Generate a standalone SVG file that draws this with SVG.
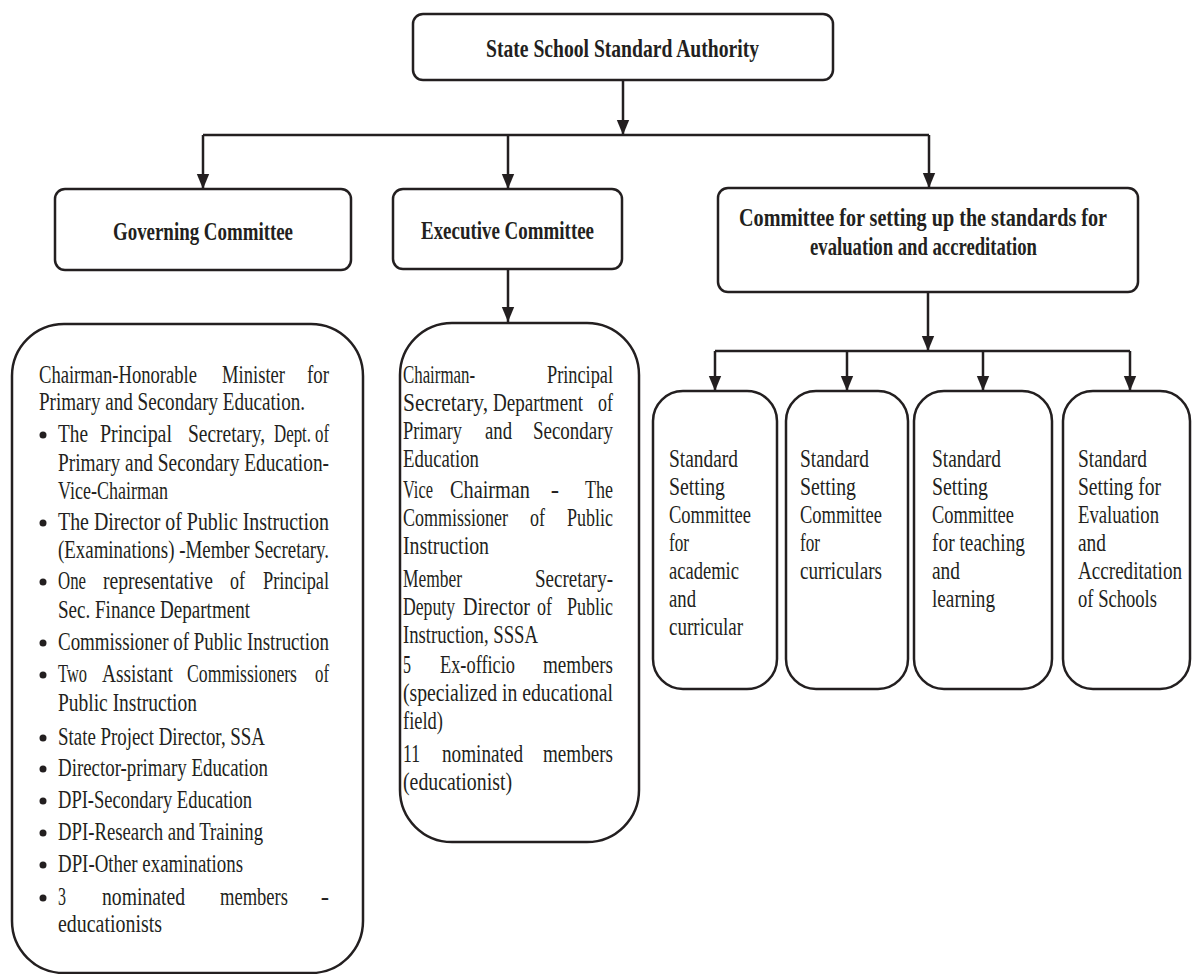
<svg xmlns="http://www.w3.org/2000/svg" width="1192" height="974" viewBox="0 0 1192 974">
  <style>
    .box { fill: #ffffff; stroke: #231f20; stroke-width: 2.5; }
    .wire { fill: none; stroke: #231f20; stroke-width: 2.5; }
    .t { font-family: "Liberation Serif", "Times New Roman", serif; font-size: 25px; fill: #231f20; }
    .h { font-family: "Liberation Serif", "Times New Roman", serif; font-size: 25px; font-weight: bold; fill: #231f20; }
    .dot { fill: #231f20; }
  </style>
  <defs>
    <marker id="tip" markerUnits="userSpaceOnUse" markerWidth="16" markerHeight="18" viewBox="0 0 18 16" refX="17" refY="8" orient="auto">
      <path d="M0,1 L17,8 L0,15 Z" fill="#231f20"/>
    </marker>
  </defs>

  <rect width="1192" height="974" fill="#ffffff"/>

  <!-- connectors -->
  <g id="connectors">
    <path class="wire" d="M623,80 V135" marker-end="url(#tip)"/>
    <path class="wire" d="M203,135 H929"/>
    <path class="wire" d="M203,135 V189" marker-end="url(#tip)"/>
    <path class="wire" d="M508,135 V189" marker-end="url(#tip)"/>
    <path class="wire" d="M929,135 V188" marker-end="url(#tip)"/>
    <path class="wire" d="M508,269 V322" marker-end="url(#tip)"/>
    <path class="wire" d="M928,292 V351" marker-end="url(#tip)"/>
    <path class="wire" d="M715,351 H1130"/>
    <path class="wire" d="M715,351 V391" marker-end="url(#tip)"/>
    <path class="wire" d="M847,351 V391" marker-end="url(#tip)"/>
    <path class="wire" d="M983,351 V391" marker-end="url(#tip)"/>
    <path class="wire" d="M1130,351 V391" marker-end="url(#tip)"/>
  </g>

  <!-- root -->
  <g id="authority">
    <rect class="box" x="413" y="14" width="420" height="66" rx="10"/>
    <text class="h" x="486" y="57" textLength="273" lengthAdjust="spacingAndGlyphs">State School Standard Authority</text>
  </g>

  <!-- second level -->
  <g id="governing">
    <rect class="box" x="55" y="189" width="296" height="81" rx="10"/>
    <text class="h" x="113" y="240" textLength="180" lengthAdjust="spacingAndGlyphs">Governing Committee</text>
  </g>
  <g id="executive">
    <rect class="box" x="393" y="189" width="229" height="80" rx="10"/>
    <text class="h" x="421" y="239" textLength="173" lengthAdjust="spacingAndGlyphs">Executive Committee</text>
  </g>
  <g id="standards-committee">
    <rect class="box" x="718" y="188" width="420" height="104" rx="10"/>
    <text class="h" x="739" y="226" textLength="368" lengthAdjust="spacingAndGlyphs">Committee for setting up the standards for</text>
    <text class="h" x="810" y="255" textLength="227" lengthAdjust="spacingAndGlyphs">evaluation and accreditation</text>
  </g>

  <!-- governing committee members -->
  <g id="governing-members">
    <rect class="box" x="12" y="324" width="351" height="649" rx="52"/>
    <text class="t" x="39" y="383" textLength="158" lengthAdjust="spacingAndGlyphs">Chairman-Honorable</text>
    <text class="t" x="222" y="383" textLength="63" lengthAdjust="spacingAndGlyphs">Minister</text>
    <text class="t" x="307" y="383" textLength="22" lengthAdjust="spacingAndGlyphs">for</text>
    <text class="t" x="39" y="410" textLength="266" lengthAdjust="spacingAndGlyphs">Primary and Secondary Education.</text>

    <circle class="dot" cx="43" cy="435" r="3.5"/>
    <text class="t" x="58" y="442" textLength="30" lengthAdjust="spacingAndGlyphs">The</text>
    <text class="t" x="100" y="442" textLength="72" lengthAdjust="spacingAndGlyphs">Principal</text>
    <text class="t" x="188" y="442" textLength="77" lengthAdjust="spacingAndGlyphs">Secretary,</text>
    <text class="t" x="274" y="442" textLength="37" lengthAdjust="spacingAndGlyphs">Dept.</text>
    <text class="t" x="315" y="442" textLength="14" lengthAdjust="spacingAndGlyphs">of</text>
    <text class="t" x="58" y="471" textLength="271" lengthAdjust="spacingAndGlyphs">Primary and Secondary Education-</text>
    <text class="t" x="58" y="499" textLength="110" lengthAdjust="spacingAndGlyphs">Vice-Chairman</text>

    <circle class="dot" cx="43" cy="523" r="3.5"/>
    <text class="t" x="58" y="530" textLength="271" lengthAdjust="spacingAndGlyphs">The Director of Public Instruction</text>
    <text class="t" x="58" y="558" textLength="271" lengthAdjust="spacingAndGlyphs">(Examinations) -Member Secretary.</text>

    <circle class="dot" cx="43" cy="582" r="3.5"/>
    <text class="t" x="58" y="589" textLength="28" lengthAdjust="spacingAndGlyphs">One</text>
    <text class="t" x="103" y="589" textLength="110" lengthAdjust="spacingAndGlyphs">representative</text>
    <text class="t" x="230" y="589" textLength="15" lengthAdjust="spacingAndGlyphs">of</text>
    <text class="t" x="263" y="589" textLength="66" lengthAdjust="spacingAndGlyphs">Principal</text>
    <text class="t" x="58" y="618" textLength="192" lengthAdjust="spacingAndGlyphs">Sec. Finance Department</text>

    <circle class="dot" cx="43" cy="643" r="3.5"/>
    <text class="t" x="58" y="650" textLength="271" lengthAdjust="spacingAndGlyphs">Commissioner of Public Instruction</text>

    <circle class="dot" cx="43" cy="675" r="3.5"/>
    <text class="t" x="58" y="682" textLength="29" lengthAdjust="spacingAndGlyphs">Two</text>
    <text class="t" x="102" y="682" textLength="71" lengthAdjust="spacingAndGlyphs">Assistant</text>
    <text class="t" x="187" y="682" textLength="110" lengthAdjust="spacingAndGlyphs">Commissioners</text>
    <text class="t" x="315" y="682" textLength="14" lengthAdjust="spacingAndGlyphs">of</text>
    <text class="t" x="58" y="711" textLength="139" lengthAdjust="spacingAndGlyphs">Public Instruction</text>

    <circle class="dot" cx="43" cy="738" r="3.5"/>
    <text class="t" x="58" y="745" textLength="207" lengthAdjust="spacingAndGlyphs">State Project Director, SSA</text>
    <circle class="dot" cx="43" cy="769" r="3.5"/>
    <text class="t" x="58" y="776" textLength="210" lengthAdjust="spacingAndGlyphs">Director-primary Education</text>
    <circle class="dot" cx="43" cy="801" r="3.5"/>
    <text class="t" x="58" y="808" textLength="194" lengthAdjust="spacingAndGlyphs">DPI-Secondary Education</text>
    <circle class="dot" cx="43" cy="833" r="3.5"/>
    <text class="t" x="58" y="840" textLength="205" lengthAdjust="spacingAndGlyphs">DPI-Research and Training</text>
    <circle class="dot" cx="43" cy="865" r="3.5"/>
    <text class="t" x="58" y="872" textLength="185" lengthAdjust="spacingAndGlyphs">DPI-Other examinations</text>

    <circle class="dot" cx="43" cy="898" r="3.5"/>
    <text class="t" x="58" y="905" textLength="8" lengthAdjust="spacingAndGlyphs">3</text>
    <text class="t" x="102" y="905" textLength="83" lengthAdjust="spacingAndGlyphs">nominated</text>
    <text class="t" x="220" y="905" textLength="68" lengthAdjust="spacingAndGlyphs">members</text>
    <text class="t" x="329" y="905" text-anchor="end">-</text>
    <text class="t" x="58" y="932" textLength="104" lengthAdjust="spacingAndGlyphs">educationists</text>
  </g>

  <!-- executive committee members -->
  <g id="executive-members">
    <rect class="box" x="400" y="323" width="239" height="519" rx="52"/>
    <text class="t" x="403" y="383" textLength="72" lengthAdjust="spacingAndGlyphs">Chairman-</text>
    <text class="t" x="547" y="383" textLength="66" lengthAdjust="spacingAndGlyphs">Principal</text>
    <text class="t" x="403" y="411" textLength="85" lengthAdjust="spacingAndGlyphs">Secretary,</text>
    <text class="t" x="493" y="411" textLength="90" lengthAdjust="spacingAndGlyphs">Department</text>
    <text class="t" x="598" y="411" textLength="15" lengthAdjust="spacingAndGlyphs">of</text>
    <text class="t" x="403" y="439" textLength="59" lengthAdjust="spacingAndGlyphs">Primary</text>
    <text class="t" x="485" y="439" textLength="27" lengthAdjust="spacingAndGlyphs">and</text>
    <text class="t" x="533" y="439" textLength="80" lengthAdjust="spacingAndGlyphs">Secondary</text>
    <text class="t" x="403" y="467" textLength="76" lengthAdjust="spacingAndGlyphs">Education</text>

    <text class="t" x="403" y="498" textLength="30" lengthAdjust="spacingAndGlyphs">Vice</text>
    <text class="t" x="450" y="498" textLength="80" lengthAdjust="spacingAndGlyphs">Chairman</text>
    <text class="t" x="555" y="498" text-anchor="middle">-</text>
    <text class="t" x="585" y="498" textLength="28" lengthAdjust="spacingAndGlyphs">The</text>
    <text class="t" x="403" y="526" textLength="105" lengthAdjust="spacingAndGlyphs">Commissioner</text>
    <text class="t" x="530" y="526" textLength="15" lengthAdjust="spacingAndGlyphs">of</text>
    <text class="t" x="567" y="526" textLength="46" lengthAdjust="spacingAndGlyphs">Public</text>
    <text class="t" x="403" y="554" textLength="86" lengthAdjust="spacingAndGlyphs">Instruction</text>

    <text class="t" x="403" y="587" textLength="59" lengthAdjust="spacingAndGlyphs">Member</text>
    <text class="t" x="535" y="587" textLength="78" lengthAdjust="spacingAndGlyphs">Secretary-</text>
    <text class="t" x="403" y="615" textLength="52" lengthAdjust="spacingAndGlyphs">Deputy</text>
    <text class="t" x="463" y="615" textLength="67" lengthAdjust="spacingAndGlyphs">Director</text>
    <text class="t" x="537" y="615" textLength="15" lengthAdjust="spacingAndGlyphs">of</text>
    <text class="t" x="567" y="615" textLength="46" lengthAdjust="spacingAndGlyphs">Public</text>
    <text class="t" x="403" y="643" textLength="135" lengthAdjust="spacingAndGlyphs">Instruction, SSSA</text>

    <text class="t" x="403" y="673" textLength="8" lengthAdjust="spacingAndGlyphs">5</text>
    <text class="t" x="440" y="673" textLength="75" lengthAdjust="spacingAndGlyphs">Ex-officio</text>
    <text class="t" x="543" y="673" textLength="70" lengthAdjust="spacingAndGlyphs">members</text>
    <text class="t" x="403" y="701" textLength="210" lengthAdjust="spacingAndGlyphs">(specialized in educational</text>
    <text class="t" x="403" y="729" textLength="40" lengthAdjust="spacingAndGlyphs">field)</text>

    <text class="t" x="403" y="762" textLength="17" lengthAdjust="spacingAndGlyphs">11</text>
    <text class="t" x="442" y="762" textLength="81" lengthAdjust="spacingAndGlyphs">nominated</text>
    <text class="t" x="543" y="762" textLength="70" lengthAdjust="spacingAndGlyphs">members</text>
    <text class="t" x="403" y="790" textLength="109" lengthAdjust="spacingAndGlyphs">(educationist)</text>
  </g>

  <!-- standard setting sub-committees -->
  <g id="sub-academic">
    <rect class="box" x="653" y="391" width="124" height="298" rx="30"/>
    <text class="t" x="669" y="467" textLength="69" lengthAdjust="spacingAndGlyphs">Standard</text>
    <text class="t" x="669" y="495" textLength="56" lengthAdjust="spacingAndGlyphs">Setting</text>
    <text class="t" x="669" y="523" textLength="82" lengthAdjust="spacingAndGlyphs">Committee</text>
    <text class="t" x="669" y="551" textLength="20" lengthAdjust="spacingAndGlyphs">for</text>
    <text class="t" x="669" y="579" textLength="70" lengthAdjust="spacingAndGlyphs">academic</text>
    <text class="t" x="669" y="607" textLength="27" lengthAdjust="spacingAndGlyphs">and</text>
    <text class="t" x="669" y="635" textLength="74" lengthAdjust="spacingAndGlyphs">curricular</text>
  </g>
  <g id="sub-curriculars">
    <rect class="box" x="786" y="391" width="122" height="298" rx="30"/>
    <text class="t" x="800" y="467" textLength="69" lengthAdjust="spacingAndGlyphs">Standard</text>
    <text class="t" x="800" y="495" textLength="56" lengthAdjust="spacingAndGlyphs">Setting</text>
    <text class="t" x="800" y="523" textLength="82" lengthAdjust="spacingAndGlyphs">Committee</text>
    <text class="t" x="800" y="551" textLength="20" lengthAdjust="spacingAndGlyphs">for</text>
    <text class="t" x="800" y="579" textLength="82" lengthAdjust="spacingAndGlyphs">curriculars</text>
  </g>
  <g id="sub-teaching">
    <rect class="box" x="914" y="391" width="138" height="298" rx="30"/>
    <text class="t" x="932" y="467" textLength="69" lengthAdjust="spacingAndGlyphs">Standard</text>
    <text class="t" x="932" y="495" textLength="56" lengthAdjust="spacingAndGlyphs">Setting</text>
    <text class="t" x="932" y="523" textLength="82" lengthAdjust="spacingAndGlyphs">Committee</text>
    <text class="t" x="932" y="551" textLength="93" lengthAdjust="spacingAndGlyphs">for teaching</text>
    <text class="t" x="932" y="579" textLength="28" lengthAdjust="spacingAndGlyphs">and</text>
    <text class="t" x="932" y="607" textLength="63" lengthAdjust="spacingAndGlyphs">learning</text>
  </g>
  <g id="sub-accreditation">
    <rect class="box" x="1063" y="391" width="127" height="298" rx="30"/>
    <text class="t" x="1078" y="467" textLength="69" lengthAdjust="spacingAndGlyphs">Standard</text>
    <text class="t" x="1078" y="495" textLength="83" lengthAdjust="spacingAndGlyphs">Setting for</text>
    <text class="t" x="1078" y="523" textLength="81" lengthAdjust="spacingAndGlyphs">Evaluation</text>
    <text class="t" x="1078" y="551" textLength="28" lengthAdjust="spacingAndGlyphs">and</text>
    <text class="t" x="1078" y="579" textLength="104" lengthAdjust="spacingAndGlyphs">Accreditation</text>
    <text class="t" x="1078" y="607" textLength="79" lengthAdjust="spacingAndGlyphs">of Schools</text>
  </g>
</svg>
